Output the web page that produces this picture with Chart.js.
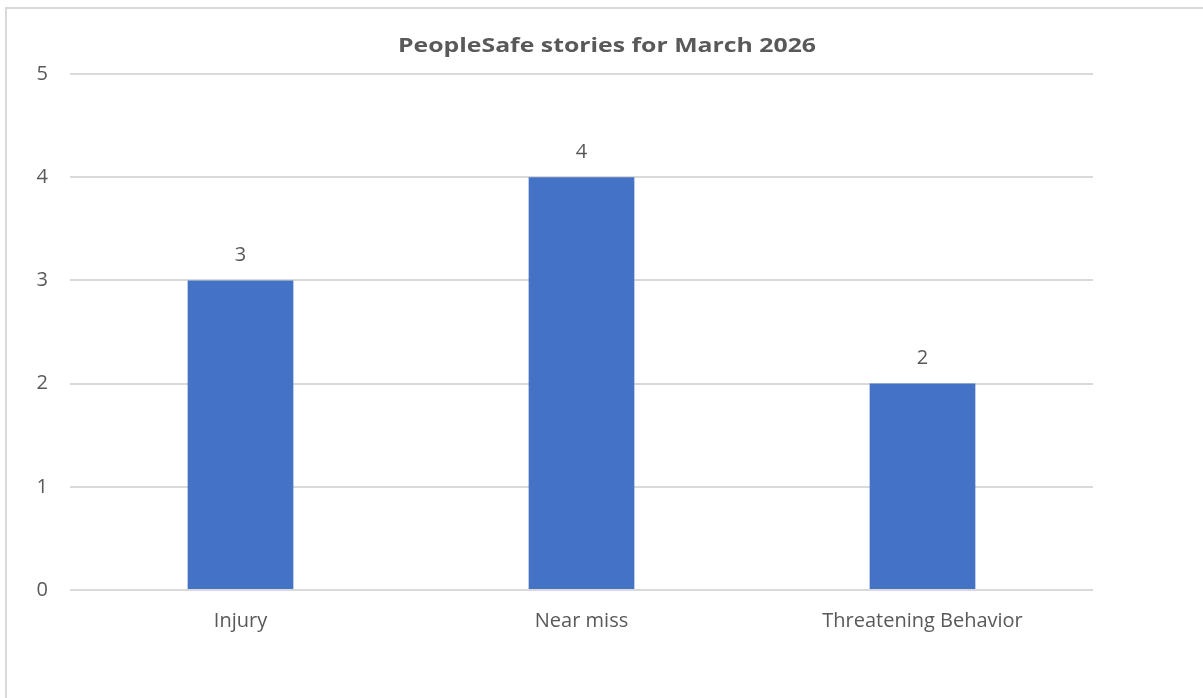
<!DOCTYPE html>
<html>
<head>
<meta charset="utf-8">
<script src="https://cdn.jsdelivr.net/npm/chart.js@4/dist/chart.umd.min.js"></script>
<style>
    body { margin: 0; background: #fff; overflow: hidden; }
    #frame {
        position: absolute; left: 5px; top: 7px;
        width: 1300px; height: 800px;
        border-left: 2px solid #d9d9d9; border-top: 2px solid #d9d9d9;
    }
    #wrap { position: absolute; left: 0; top: 0; width: 1203px; height: 698px; }
</style>
</head>
<body>
<div id="frame"></div>
<div id="wrap"><canvas id="stories"></canvas></div>
<script>
const categories = ['Injury', 'Near miss', 'Threatening Behavior'];
const storyCounts = [3, 4, 2];
const yTicks = [0, 1, 2, 3, 4, 5];
const chartTitle = 'PeopleSafe stories for March 2026';

const textGrey = '#595959';
const fontFamily = '"Open Sans", "Noto Sans", sans-serif';

// title centred across the whole canvas, drawn a little wide
const wideTitle = {
    id: 'wideTitle',
    afterDraw(chart) {
        const c = chart.ctx;
        const stretch = 1.24;
        c.save();
        c.fillStyle = textGrey;
        c.font = 'bold 20px ' + fontFamily;
        c.textAlign = 'center';
        c.textBaseline = 'middle';
        c.translate(607, 46);
        c.scale(stretch, 1);
        c.fillText(chartTitle, 0, 0);
        c.restore();
    }
};

// values written above each bar
const barValues = {
    id: 'barValues',
    afterDatasetsDraw(chart) {
        const c = chart.ctx;
        const meta = chart.getDatasetMeta(0);
        c.save();
        c.fillStyle = textGrey;
        c.font = '20px ' + fontFamily;
        c.textAlign = 'center';
        c.textBaseline = 'middle';
        meta.data.forEach((bar, i) => {
            c.fillText(chart.data.datasets[0].data[i], bar.x, bar.y - 25);
        });
        c.restore();
    }
};

const ctx = document.getElementById('stories');

new Chart(ctx, {
    type: 'bar',
    data: {
        labels: categories,
        datasets: [{
            label: 'Stories',
            data: storyCounts,
            backgroundColor: '#4472C4',
            categoryPercentage: 1,
            barPercentage: 0.31
        }]
    },
    options: {
        responsive: true,
        maintainAspectRatio: false,
        animation: false,
        layout: {
            padding: { top: 74, right: 110, bottom: 65, left: 0 }
        },
        plugins: {
            legend: { display: false },
            tooltip: { enabled: false },
            title: { display: false }
        },
        scales: {
            x: {
                afterFit: (scale) => { scale.height = 43; },
                grid: { display: false, drawTicks: false },
                border: { display: false },
                ticks: {
                    color: textGrey,
                    font: { family: fontFamily, size: 20 },
                    padding: 19
                }
            },
            y: {
                min: 0,
                max: 5,
                afterFit: (scale) => { scale.width = 70; },
                afterBuildTicks: (scale) => {
                    scale.ticks = yTicks.map(v => ({ value: v }));
                },
                grid: { color: '#d9d9d9', lineWidth: 2, drawTicks: false },
                border: { display: false },
                ticks: {
                    color: textGrey,
                    font: { family: fontFamily, size: 20 },
                    padding: 22
                }
            }
        }
    },
    plugins: [barValues, wideTitle]
});
</script>
</body>
</html>
